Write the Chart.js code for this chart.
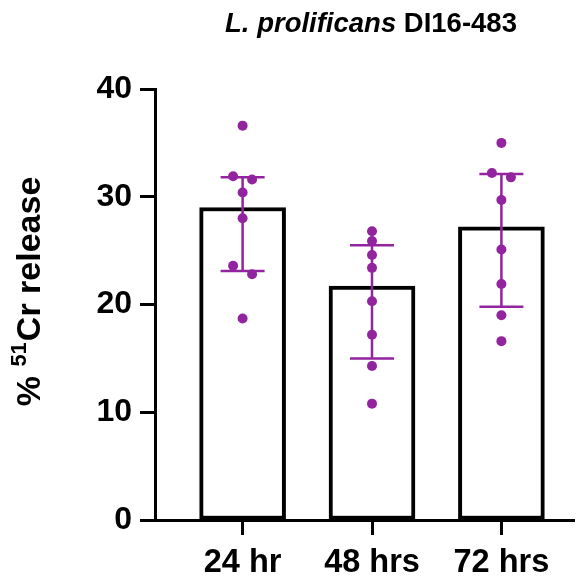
<!DOCTYPE html>
<html>
<head>
<meta charset="utf-8">
<script src="https://cdn.jsdelivr.net/npm/chart.js@4.4.1/dist/chart.umd.min.js"></script>
<style>
    html, body { margin: 0; padding: 0; background: #fff; }
    #wrap { width: 579px; height: 577px; }
</style>
</head>
<body>
<div id="wrap"><canvas id="releaseChart" width="579" height="577"></canvas></div>
<script>
const categories = ['24 hr', '48 hrs', '72 hrs'];
const medians = [29.0, 21.7, 27.2];
const lowerBars = [23.1, 15.0, 19.8];
const upperBars = [31.8, 25.5, 32.1];
const points24 = [36.6, 31.9, 31.6, 30.4, 28.0, 23.6, 22.8, 18.7];
const points48 = [26.8, 25.9, 24.6, 23.4, 20.3, 17.2, 14.3, 10.8];
const points72 = [35.0, 32.2, 31.8, 29.7, 25.1, 21.9, 19.0, 16.6];
const yTicks = [0, 10, 20, 30, 40];

const purple = '#93249f';
const fontFamily = "'Liberation Sans', Arial, sans-serif";
const groups = [points24, points48, points72];

const scatterPoints = [];
groups.forEach(function (vals, i) {
    vals.forEach(function (v) {
        scatterPoints.push({ x: i, y: v });
    });
});

// spread points that sit too close together (beeswarm-ish)
const jitterPlugin = {
    id: 'jitter',
    afterDatasetsUpdate(chart) {
        const meta = chart.getDatasetMeta(1);
        const els = meta.data;
        const byGroup = {};
        els.forEach(function (el, idx) {
            const g = scatterPoints[idx].x;
            (byGroup[g] = byGroup[g] || []).push(el);
        });
        Object.keys(byGroup).forEach(function (g) {
            const list = byGroup[g].slice().sort(function (a, b) { return a.y - b.y; });
            let cluster = [list[0]];
            const flush = function () {
                const n = cluster.length;
                cluster.forEach(function (el, k) {
                    el.x += (k - (n - 1) / 2) * 19;
                });
            };
            for (let k = 1; k < list.length; k++) {
                if (list[k].y - cluster[cluster.length - 1].y < 9.2) {
                    cluster.push(list[k]);
                } else {
                    flush();
                    cluster = [list[k]];
                }
            }
            flush();
        });
    }
};

const errorBarPlugin = {
    id: 'errorBars',
    afterDatasetDraw(chart, args) {
        if (args.index !== 0) return;
        const ctx = chart.ctx;
        const xs = chart.scales.x;
        const ys = chart.scales.y;
        ctx.save();
        ctx.strokeStyle = purple;
        ctx.lineWidth = 2.5;
        categories.forEach(function (c, i) {
            const x = xs.getPixelForValue(i);
            const top = ys.getPixelForValue(upperBars[i]);
            const bot = ys.getPixelForValue(lowerBars[i]);
            ctx.beginPath();
            ctx.moveTo(x, top);
            ctx.lineTo(x, bot);
            ctx.moveTo(x - 22, top);
            ctx.lineTo(x + 22, top);
            ctx.moveTo(x - 22, bot);
            ctx.lineTo(x + 22, bot);
            ctx.stroke();
        });
        ctx.restore();
    }
};

const textPlugin = {
    id: 'texts',
    afterDraw(chart) {
        const ctx = chart.ctx;
        ctx.save();
        ctx.fillStyle = '#000';
        ctx.textBaseline = 'alphabetic';

        // title: italic species + plain strain id
        const partA = 'L. prolificans';
        const partB = ' DI16-483';
        ctx.font = 'italic bold 27.5px ' + fontFamily;
        const wA = ctx.measureText(partA).width;
        ctx.font = 'bold 27.5px ' + fontFamily;
        const wB = ctx.measureText(partB).width;
        let tx = 371 - (wA + wB) / 2;
        ctx.font = 'italic bold 27.5px ' + fontFamily;
        ctx.fillText(partA, tx, 32);
        ctx.font = 'bold 27.5px ' + fontFamily;
        ctx.fillText(partB, tx + wA, 32);

        // y axis title with superscript
        ctx.translate(40, 292);
        ctx.rotate(-Math.PI / 2);
        const s1 = '% ', s2 = '51', s3 = 'Cr release';
        ctx.font = 'bold 34px ' + fontFamily;
        const w1 = ctx.measureText(s1).width;
        const w3 = ctx.measureText(s3).width;
        ctx.font = 'bold 22px ' + fontFamily;
        const w2 = ctx.measureText(s2).width;
        let x0 = -(w1 + w2 + w3) / 2;
        ctx.font = 'bold 34px ' + fontFamily;
        ctx.fillText(s1, x0, 0);
        ctx.font = 'bold 22px ' + fontFamily;
        ctx.fillText(s2, x0 + w1, -14);
        ctx.font = 'bold 34px ' + fontFamily;
        ctx.fillText(s3, x0 + w1 + w2 + 1, 0);
        ctx.restore();
    }
};

new Chart(document.getElementById('releaseChart').getContext('2d'), {
    type: 'bar',
    data: {
        datasets: [{
            type: 'bar',
            data: medians.map(function (v, i) { return { x: i, y: v }; }),
            backgroundColor: '#fff',
            borderColor: '#000',
            borderWidth: 4,
            borderSkipped: false,
            barThickness: 86,
            order: 2
        }, {
            type: 'scatter',
            data: scatterPoints,
            pointRadius: 5,
            pointBackgroundColor: purple,
            pointBorderWidth: 0,
            order: 1
        }]
    },
    options: {
        responsive: false,
        animation: false,
        devicePixelRatio: 1,
        layout: { padding: { top: 89, right: 0, bottom: 0, left: 0 } },
        plugins: {
            legend: { display: false },
            tooltip: { enabled: false }
        },
        scales: {
            x: {
                type: 'linear',
                offset: false,
                min: -0.677,
                max: 2.561,
                afterBuildTicks: function (axis) {
                    axis.ticks = categories.map(function (c, i) { return { value: i }; });
                },
                afterFit: function (axis) { axis.height = 57; },
                grid: {
                    offset: false,
                    drawOnChartArea: false,
                    drawTicks: true,
                    tickLength: 15,
                    tickColor: '#000',
                    tickWidth: 3
                },
                border: { display: true, color: '#000', width: 3 },
                ticks: {
                    color: '#000',
                    padding: 9,
                    maxRotation: 0,
                    font: { family: fontFamily, size: 32.5, weight: 'bold' },
                    callback: function (value) { return categories[value]; }
                }
            },
            y: {
                min: 0,
                max: 40,
                afterBuildTicks: function (axis) {
                    axis.ticks = yTicks.map(function (v) { return { value: v }; });
                },
                afterFit: function (axis) { axis.width = 155; },
                grid: {
                    drawOnChartArea: false,
                    drawTicks: true,
                    tickLength: 15,
                    tickColor: '#000',
                    tickWidth: 3
                },
                border: { display: true, color: '#000', width: 3 },
                ticks: {
                    color: '#000',
                    padding: 8,
                    font: { family: fontFamily, size: 32, weight: 'bold' }
                }
            }
        }
    },
    plugins: [jitterPlugin, errorBarPlugin, textPlugin]
});
</script>
</body>
</html>
